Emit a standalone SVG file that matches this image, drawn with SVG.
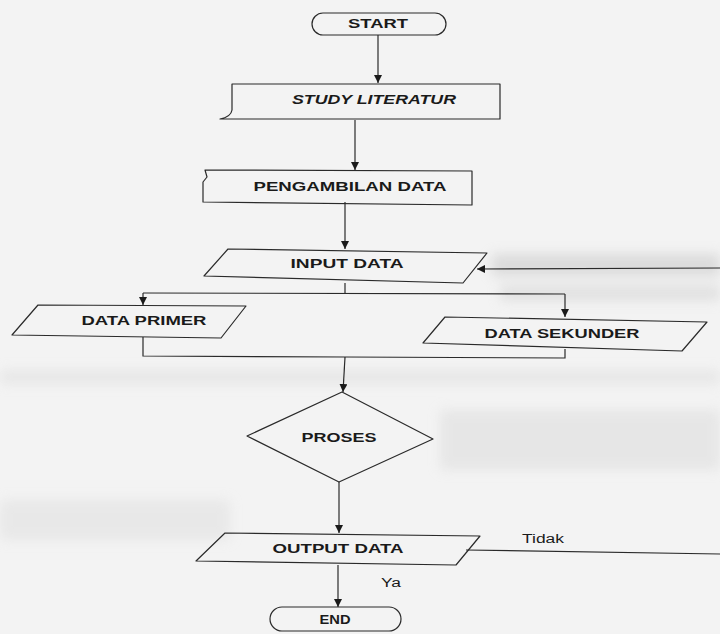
<svg xmlns="http://www.w3.org/2000/svg" width="720" height="634" viewBox="0 0 720 634">
<defs>
<marker id="ah" viewBox="0 0 10 10" refX="10" refY="5" markerWidth="8" markerHeight="8" markerUnits="userSpaceOnUse" orient="auto">
<path d="M0,0 L10,5 L0,10 z" fill="#1a1a1a"/>
</marker>
<filter id="blur" x="-10%" y="-50%" width="120%" height="200%"><feGaussianBlur stdDeviation="6"/></filter>
</defs>
<style>
.shape{fill:none;stroke:#2a2a2a;stroke-width:1.2;stroke-linejoin:round}
.conn{fill:none;stroke:#2a2a2a;stroke-width:1.2}
.lbl{font-family:"Liberation Sans",Arial,sans-serif;font-weight:bold;font-size:12.5px;fill:#1a1a1a;text-anchor:middle}
.sm{font-family:"Liberation Sans",Arial,sans-serif;font-size:12px;fill:#1a1a1a;text-anchor:middle}
</style>
<rect width="720" height="634" fill="#f3f3f3"/>
<g id="background" opacity="0.5" filter="url(#blur)">
<rect x="492" y="254" width="228" height="22" fill="#c4c4c4"/>
<rect x="500" y="285" width="220" height="16" fill="#d0d0d0"/>
<rect x="0" y="370" width="720" height="14" fill="#dcdcdc"/>
<rect x="440" y="410" width="280" height="60" fill="#dadada"/>
<rect x="0" y="500" width="230" height="40" fill="#dedede"/>
</g>
<g id="connectors">
<path class="conn" d="M378,35 L378,83" marker-end="url(#ah)"/>
<path class="conn" d="M355,120 L355,170" marker-end="url(#ah)"/>
<path class="conn" d="M345,202 L345,249" marker-end="url(#ah)"/>
<path class="conn" d="M345,283 L345,293"/>
<path class="conn" d="M143,293 L565,294"/>
<path class="conn" d="M143,293 L143,305" marker-end="url(#ah)"/>
<path class="conn" d="M565,294 L565,317" marker-end="url(#ah)"/>
<path class="conn" d="M143,337 L143,356 L345,357"/>
<path class="conn" d="M565,349 L565,358 L345,357"/>
<path class="conn" d="M345,357 L343,392" marker-end="url(#ah)"/>
<path class="conn" d="M339,482 L339,533" marker-end="url(#ah)"/>
<path class="conn" d="M338,565 L338,607" marker-end="url(#ah)"/>
<path class="conn" d="M466,550 L720,554"/>
<path class="conn" d="M720,268 L477,269" marker-end="url(#ah)"/>
<text class="sm" x="543" y="543" textLength="42" lengthAdjust="spacingAndGlyphs">Tidak</text>
<text class="sm" x="391" y="587" textLength="20" lengthAdjust="spacingAndGlyphs">Ya</text>
</g>
<g id="start">
<rect class="shape" x="312" y="13" width="134" height="22" rx="11" ry="11"/>
<text class="lbl" x="378" y="28" textLength="60" lengthAdjust="spacingAndGlyphs">START</text>
</g>
<g id="study-literatur">
<path class="shape" d="M232,84 L500,84 L500,119 L220,119 Q231,117 232,110 Z"/>
<text class="lbl" x="374" y="104" font-style="italic" textLength="164" lengthAdjust="spacingAndGlyphs">STUDY LITERATUR</text>
</g>
<g id="pengambilan-data">
<path class="shape" d="M205,170 L472,171 L472,205 L203,202 L203,182 L207,177 Z"/>
<text class="lbl" x="350" y="191" textLength="193" lengthAdjust="spacingAndGlyphs">PENGAMBILAN DATA</text>
</g>
<g id="input-data">
<path class="shape" d="M228,249 L487,253 L463,283 L204,276 Z"/>
<text class="lbl" x="347" y="268" textLength="113" lengthAdjust="spacingAndGlyphs">INPUT DATA</text>
</g>
<g id="data-primer">
<path class="shape" d="M38,305 L246,306 L221,338 L12,335 Z"/>
<text class="lbl" x="144" y="325" textLength="125" lengthAdjust="spacingAndGlyphs">DATA PRIMER</text>
</g>
<g id="data-sekunder">
<path class="shape" d="M445,317 L707,322 L682,351 L423,343 Z"/>
<text class="lbl" x="562" y="338" textLength="155" lengthAdjust="spacingAndGlyphs">DATA SEKUNDER</text>
</g>
<g id="proses">
<path class="shape" d="M342,392 L433,439 L339,482 L247,436 Z"/>
<text class="lbl" x="339" y="442" textLength="75" lengthAdjust="spacingAndGlyphs">PROSES</text>
</g>
<g id="output-data">
<path class="shape" d="M225,533 L480,536 L456,565 L196,561 Z"/>
<text class="lbl" x="338" y="553" textLength="131" lengthAdjust="spacingAndGlyphs">OUTPUT DATA</text>
</g>
<g id="end">
<rect class="shape" x="270" y="607" width="131" height="24" rx="12" ry="12"/>
<text class="lbl" x="335" y="624" textLength="31" lengthAdjust="spacingAndGlyphs">END</text>
</g>
</svg>
